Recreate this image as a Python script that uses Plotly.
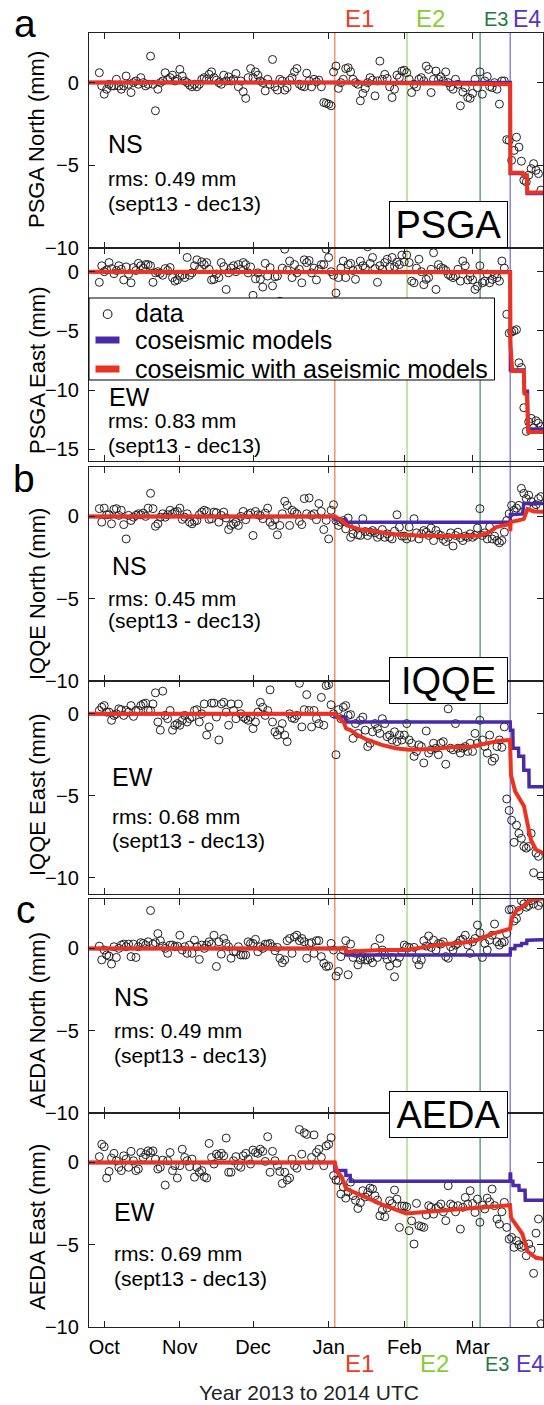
import pandas as pd
import plotly.graph_objects as go

# ---------------- data (daily GPS displacement, mm) ----------------
month_starts = ["2013-09-29", "2013-10-01", "2013-11-01", "2013-12-01",
                "2014-01-01", "2014-02-01", "2014-03-01"]

psga_north = [
    [0.6, -0.2],
    [-0.7, -0.4, -0.1, -0.2, -0.2, 0.2, -0.2, -0.4, -0.2, 0.4, -0.1, -0.6, 0.0, 0.1, -0.1, 0.3,
     0.0, -0.2, -0.1, 1.6, -0.1, -1.7, -0.4, 0.0, 0.1, 0.6, 0.2, 0.3, 0.45, 0.1, 0.2],
    [0.8, 0.4, 0.1, 0.0, -0.15, -0.25, -0.1, -0.25, -0.1, 0.2, 0.3, 0.2, 0.5, 0.65, 0.3,
     0.15, 0.0, -0.1, 0.45, 0.1, 0.35, 0.1, 0.2, 0.55, -0.25, 0.1, -0.55, -0.95, 0.3, 0.85],
    [0.3, 0.65, 0.45, 0.1, 0.0, -0.5, 0.2, -0.1, 1.4, -0.25, -0.45, 0.2, 0.1, -0.45, -0.3, 0.15,
     0.3, 0.65, 0.85, -0.1, -0.2, -0.25, 0.57, 0.1, -0.25, 0.2, 0.05, 0.15, -0.25, -1.2, -1.25],
    [-1.3, -1.4, 0.65, 1.0, -0.35, 0.0, 0.2, 0.85, 0.9, 0.65, 0.2, 0.0, -0.1, -1.1, -0.65, -0.35,
     0.0, 0.3, 0.15, -0.8, 0.1, 1.3, 0.2, 0.5, 0.25, -0.25, -0.9, -0.4, 0.45, 0.3, 0.7],
    [0.75, 0.6, 0.2, -0.6, -0.1, -0.25, 0.2, 0.3, 0.1, 1.0, 0.8, -0.6, 0.2, 0.7, 0.2, 0.35,
     0.1, 0.65, 0.0, -0.25, -0.4, 0.2, -0.1, -1.4, -0.57, -0.3, -0.9, -0.95],
    [-0.65, 0.2, -0.3, 0.65, -0.7, 0.1, 0.37, -0.24, -0.3, 0.0, -0.4, -1.3, 0.1, 0.1,
     -3.45, -3.5, -4.7, -4.1, -3.3, -3.9, -4.75, -5.9, -6.0, -5.6, -5.2, -4.9, -5.3, -5.5, -6.5],
]

psga_east = [
    [-0.9, 0.5],
    [0.0, 0.15, 0.77, 0.26, -0.17, 0.1, 0.5, 0.2, -0.7, 0.4, -0.2, -0.94, 0.35, 0.1, 0.7, 0.5,
     0.3, 0.6, 0.6, 0.5, -0.9, -0.1, 0.0, -0.14, -0.3, 0.26, 0.1, 0.35, -0.5, -0.8, -0.7],
    [-0.37, -0.3, -0.5, 1.2, -0.3, -0.1, 0.5, 1.0, 0.2, 0.83, 0.6, 0.77, 0.2, -0.7, -0.65,
     -0.2, -0.5, 0.77, 0.43, -1.5, -0.1, 0.3, 0.5, 0.0, 0.6, 0.2, 0.77, 0.6, -0.1, 0.4],
    [-2.0, -0.6, -0.1, -0.65, -1.3, 0.7, -0.37, 0.34, -1.2, -0.43, -0.37, -2.5, 0.3, 1.9, 0.14,
     0.9, -0.5, 0.6, -0.1, 0.2, -0.94, 1.0, 0.77, 0.94, -0.1, 0.3, -0.7, 0.2, 0.6, 0.6, 1.9],
    [1.2, 0.0, -0.3, -1.8, -0.5, 0.3, 0.9, -0.5, 0.6, 0.7, 0.1, -0.65, 0.2, 0.9, 0.5, 0.3,
     2.1, 0.7, 1.2, 0.26, -0.9, 0.5, 0.2, 0.77, 1.05, 0.4, 1.2, 0.43, 0.8, 0.6, 1.4],
    [0.83, 1.4, 0.77, -0.8, -0.94, 0.3, 1.05, 0.0, -1.1, -0.65, -0.5, 0.2, 1.6, -1.5, 0.6,
     0.34, 0.26, 0.1, -0.23, -0.37, -0.5, -0.37, 0.2, -0.8, 0.9, 0.5, -0.7, -0.4],
    [-0.7, -1.5, -1.23, 0.5, -0.94, -0.8, -0.2, -0.94, -0.65, -0.23, -0.5, -0.8, 0.9, 0.3,
     -3.6, -5.2, -5.1, -5.0, -4.9, -7.7, -8.1, -11.5, -13.5, -12.7, -12.4, -13.2, -12.6, -12.8, -13.1],
]

iqqe_north = [
    [0.47, -0.35],
    [0.5, 0.1, 0.1, -0.45, 0.43, 0.47, 0.06, 0.37, -0.5, -1.37, 0.06, -0.25, -0.05, 0.06, 0.16,
     0.1, 0.2, 0.0, 0.5, 1.4, 0.47, -0.6, -0.45, -0.05, 0.16, -0.05, 0.1, 0.37, 0.16, 0.26, 0.3],
    [0.5, -0.18, -0.05, 0.16, -0.35, -0.45, -0.3, -0.25, 0.1, 0.26, 0.37, 0.3, -0.18, -0.14,
     0.26, 0.22, -0.35, 0.06, 0.26, -0.1, -0.8, -0.55, -0.45, -0.35, -0.55, 0.0, 0.3, -0.2, 0.1, 0.2],
    [-1.16, 0.3, 0.1, 0.06, -0.14, 0.2, 0.5, -0.35, -0.55, -0.2, -1.12, -0.55, 0.16, 0.92, 0.67,
     -0.55, 0.37, 0.26, 0.16, -0.3, -0.5, 1.08, 0.16, 1.12, 0.06, 0.16, -0.2, 0.78, 0.3, -0.8, -0.24],
    [-1.37, 0.37, 0.71, -0.25, -0.55, -0.35, -0.25, -0.76, -0.1, -1.27, -1.06, -0.6, -1.12, -1.16,
     -0.14, -0.92, -1.16, -0.96, -0.86, -1.0, -1.27, -1.12, -0.8, -1.27, -1.06, -1.27, -1.37, -0.9,
     0.1, -0.65, -1.2],
    [-1.2, -1.37, -0.65, -1.27, -0.14, -1.0, -1.37, -1.06, -0.86, -0.96, -1.16, -0.71, -1.47, -0.86,
     -1.1, -1.16, -1.4, -1.53, -1.27, -1.0, -1.8, -1.16, -0.96, -1.3, -1.47, -1.2, -1.27, -1.06],
    [-1.27, -1.16, -0.71, 0.47, -1.16, -1.0, -1.37, -0.65, -1.37, -1.2, -1.47, -1.6, -1.47, -0.96,
     -0.25, 0.16, 0.67, 0.37, 0.5, 0.67, 1.7, 1.4, 1.08, 1.29, 0.9, 0.47, 0.71, 1.08, 1.2],
]

iqqe_east = [
    [0.2, 0.4],
    [0.5, 0.1, 0.1, -0.4, -0.1, 0.0, 0.3, 0.25, -0.1, 0.2, 0.1, 0.5, -0.16, 0.2, 0.2, 0.5, 0.6,
     0.65, 0.2, 0.2, 0.6, 1.28, -0.5, -1.0, 1.38, -0.1, -0.3, 0.2, -1.0, -0.7, -0.6],
    [-0.7, -0.4, -0.1, -0.5, -0.3, -0.2, 0.2, 0.25, -0.5, 0.0, 0.6, -1.3, -0.8, 0.65, 0.65,
     -0.2, -1.6, 0.6, 0.7, 0.1, -0.7, 0.6, 0.2, -0.3, 0.6, 0.0, -0.2, -0.3, -0.4, -0.2],
    [-0.9, -0.5, 0.1, 0.7, 0.4, -0.1, 0.2, 1.46, -0.5, -1.1, -1.3, -1.0, -0.6, -1.3, -1.7, 0.0,
     -0.25, -0.3, -0.1, 1.86, -0.8, 0.25, 1.17, 0.2, -0.8, 0.2, -0.3, -0.6, 1.0, -0.7, 1.72],
    [1.78, 0.55, 0.0, -2.5, 0.25, -0.3, 0.4, 0.5, -0.1, -0.05, -1.5, -0.6, -1.2, -0.4, -0.2,
     -1.0, -2.0, -1.8, -1.1, -0.6, -0.9, -1.2, -0.3, -0.6, -1.4, -1.3, -1.6, -1.1, -1.7, -1.3, -1.6],
    [-1.3, -0.6, -1.6, -1.8, -2.6, -2.3, -1.9, -2.0, -3.0, -1.05, -2.4, -2.2, -1.8, -2.1, -2.5,
     -1.8, -1.7, -3.08, 0.3, -2.1, -2.2, -0.6, -2.1, -2.4, -2.1, -2.0, -2.3, -1.8],
    [-2.3, -1.2, -1.8, -0.4, -1.6, -2.0, -2.4, -1.3, -2.9, -2.7, -2.0, -1.6, -2.05, -0.8,
     -5.2, -5.9, -6.5, -7.85, -6.8, -7.3, -7.6, -8.1, -8.2, -8.1, -7.3, -9.7, -8.5, -8.7, -9.9],
]

aeda_north = [
    [0.14, -0.7],
    [-0.1, -0.4, -0.47, -0.95, 0.1, -0.55, 0.0, 0.2, 0.26, 0.1, 0.26, -0.5, 0.26, -0.55, 0.1,
     0.35, 0.3, 0.2, 0.4, 2.3, 0.26, 0.35, 0.9, 0.47, 0.14, 0.0, -0.3, 0.2, 0.2, 0.1, 0.14],
    [0.8, -0.1, 0.1, -0.3, 0.2, -0.3, 0.5, 0.1, -0.67, 0.2, 0.0, 0.2, 0.4, 0.26, 0.8, -1.1, 0.4,
     -0.35, 0.6, 0.3, 0.1, -0.6, -0.2, -0.2, 0.1, -0.4, -0.4, -0.4, 0.4, 0.3],
    [0.3, 0.55, -0.2, 0.1, 0.0, 0.26, 0.26, 0.3, 0.1, -0.14, 0.06, -0.6, -0.87, -0.7, 0.47, 0.6,
     -0.3, 0.7, 0.8, 0.47, 0.6, 0.4, -0.6, 0.3, 0.35, -0.3, 0.47, 0.47, -0.5, -0.9, -1.1],
    [-1.07, 0.3, -0.1, -1.68, -1.4, -0.5, -0.1, 0.47, -1.6, 0.26, -0.55, -0.3, -1.0, -0.7, -0.5,
     -0.7, -0.7, -0.6, -0.87, 0.06, -0.55, 0.6, -0.1, -0.4, -0.67, -1.07, -0.55, -1.72, -0.9,
     -0.55, -0.2],
    [0.2, 0.1, 0.06, -0.2, 0.06, -0.67, -1.0, -0.7, 0.47, 0.14, 0.75, 0.06, 0.5, -0.1, 0.3, 0.26,
     0.4, -0.5, -0.6, 0.1, -0.1, 0.2, 0.3, 0.5, 0.55, 0.8, 0.2, -0.3],
    [0.4, 0.6, 1.42, 0.95, -0.55, 0.3, -0.1, 0.5, 0.8, 1.48, 0.4, 0.2, 0.35, 0.4, 0.9, 2.35,
     2.38, 1.66, 1.8, 2.3, 2.9, 2.7, 2.5, 2.6, 2.9, 2.7, 3.1, 2.6, 2.8],
]

aeda_east = [
    [0.35, 1.1],
    [0.95, -0.95, -0.55, 0.26, 0.55, 0.1, -0.3, -0.5, 0.4, 0.2, -0.3, 0.67, 0.1, -0.5, -0.4, 0.6,
     0.3, 0.47, 0.7, 0.6, 0.7, 0.2, -0.4, -0.3, 0.14, -1.38, 0.1, 0.6, -0.5, -0.2, -0.95],
    [-0.2, 0.8, 0.3, 0.1, -0.26, 0.2, -0.9, -0.3, -0.6, -0.5, -0.87, -0.95, 1.15, 0.3, -0.1, 0.5,
     0.4, 0.55, 0.4, 1.48, -0.6, -0.6, 0.1, 0.35, -0.2, -0.3, 0.4, 0.55, 0.2, -0.1],
    [0.75, 0.6, 0.55, 0.8, 0.67, 0.06, 1.56, -0.6, 0.67, 0.1, -0.2, -0.55, -1.28, -0.6, -1.07,
     -0.95, 0.2, -0.2, -0.35, 2.0, 0.5, 1.8, 1.7, -0.2, 0.3, 1.67, 0.6, 0.8, 0.3, -0.2, 1.0],
    [1.1, 1.5, -0.8, -1.07, -1.1, -1.92, -1.5, -2.17, -1.8, -1.2, -2.02, -2.3, -2.8, -2.45, -1.72,
     -2.1, -1.82, -1.56, -1.62, -2.02, -2.29, -3.24, -2.9, -3.3, -2.77, -2.33, -2.5, -1.68, -2.23,
     -3.95, -2.65],
    [-2.65, -2.7, -4.15, -3.55, -4.96, -2.49, -3.85, -3.9, -3.95, -3.2, -2.63, -2.73, -3.14, -2.8,
     -2.69, -2.53, -3.0, -3.54, -1.42, -2.53, -2.63, -3.0, -2.63, -4.05, -2.73, -2.13, -2.53, -1.72],
    [-2.5, -3.04, -2.23, -3.64, -2.6, -2.83, -2.17, -2.4, -1.62, -2.63, -3.44, -3.75, -3.0, -2.43,
     -3.95, -4.66, -4.56, -5.16, -4.76, -5.0, -5.16, -5.06, -5.67, -4.96, -5.3, -6.74, -4.3, -3.44, -9.8],
]

# ---------------- model curves (node time, displacement mm) ----------------
psga_north_cos_t = ["2013-09-20", "2014-03-16 10:00", "2014-03-16 12:00", "2014-03-21 12:00",
                    "2014-03-21 14:00", "2014-03-23 06:00", "2014-03-23 10:00", "2014-04-05"]
psga_north_cos_v = [0, 0, -5.5, -5.5, -5.65, -5.65, -6.7, -6.7]
psga_north_ase_t = ["2013-09-20", "2014-01-03 12:00", "2014-03-16 10:00", "2014-03-16 12:00",
                    "2014-03-21 12:00", "2014-03-21 14:00", "2014-03-23 06:00", "2014-03-23 10:00",
                    "2014-04-05"]
psga_north_ase_v = [0, 0, -0.1, -5.45, -5.45, -5.6, -5.6, -6.65, -6.65]

psga_east_cos_t = ["2013-09-20", "2014-03-16 10:00", "2014-03-16 12:00", "2014-03-22 00:00",
                   "2014-03-22 04:00", "2014-03-23 12:00", "2014-03-23 16:00", "2014-04-05"]
psga_east_cos_v = [0, 0, -8.3, -8.3, -10.1, -10.1, -13.3, -13.3]
psga_east_ase_t = ["2013-09-20", "2014-01-03 12:00", "2014-03-16 10:00", "2014-03-16 12:00",
                   "2014-03-17 06:00", "2014-03-22 00:00", "2014-03-22 06:00", "2014-03-23 06:00",
                   "2014-03-23 20:00", "2014-04-05"]
psga_east_ase_v = [0, 0, -0.05, -6.0, -8.4, -8.4, -10.3, -10.4, -13.55, -13.55]

iqqe_north_cos_t = ["2013-09-20", "2014-01-03 12:00", "2014-01-03 14:00", "2014-01-08 00:00",
                    "2014-01-08 04:00", "2014-03-16 10:00", "2014-03-16 12:00", "2014-03-21 12:00",
                    "2014-03-22 00:00", "2014-04-05"]
iqqe_north_cos_v = [0, 0, -0.2, -0.2, -0.35, -0.35, 0.1, 0.15, 0.78, 0.78]
iqqe_north_ase_t = ["2013-09-20", "2014-01-03 12:00", "2014-01-06 10:00", "2014-01-08 12:00",
                    "2014-01-14 06:00", "2014-01-22 18:00", "2014-01-29 18:00", "2014-02-06",
                    "2014-02-20", "2014-03-04 06:00", "2014-03-07 18:00", "2014-03-10 18:00",
                    "2014-03-14 06:00", "2014-03-16 10:00", "2014-03-16 11:00", "2014-03-16 14:00",
                    "2014-03-21 00:00", "2014-03-22 00:00", "2014-03-23 12:00", "2014-03-26 06:00",
                    "2014-04-05"]
iqqe_north_ase_v = [0, 0, -0.25, -0.55, -0.8, -1.0, -1.12, -1.16, -1.2, -1.16, -0.96, -0.65,
                    -0.5, -0.45, -0.9, -0.35, -0.2, -0.15, 0.45, 0.3, 0.27]

iqqe_east_cos_t = ["2013-09-20", "2014-01-03 12:00", "2014-01-03 14:00", "2014-01-08 00:00",
                   "2014-01-08 04:00", "2014-03-16 10:00", "2014-03-16 12:00", "2014-03-17 12:00",
                   "2014-03-17 14:00", "2014-03-19 20:00", "2014-03-19 22:00", "2014-03-21 22:00",
                   "2014-03-22 00:00", "2014-03-24 02:00", "2014-03-24 04:00", "2014-04-05"]
iqqe_east_cos_v = [0, 0, -0.2, -0.2, -0.5, -0.5, -1.0, -1.0, -2.1, -2.1, -2.6, -2.6, -3.45,
                   -3.45, -4.45, -4.45]
iqqe_east_ase_t = ["2013-09-20", "2014-01-03 12:00", "2014-01-07 02:00", "2014-01-08 04:00",
                   "2014-01-09 22:00", "2014-01-12 20:00", "2014-01-17", "2014-01-22 18:00",
                   "2014-01-28 10:00", "2014-02-03", "2014-02-13", "2014-02-20", "2014-02-28 18:00",
                   "2014-03-06 10:00", "2014-03-12", "2014-03-16 08:00", "2014-03-16 18:00",
                   "2014-03-18 12:00", "2014-03-20 14:00", "2014-03-22 02:00", "2014-03-23 12:00",
                   "2014-03-24 22:00", "2014-03-27", "2014-04-05"]
iqqe_east_ase_v = [0, 0, -0.5, -0.9, -1.0, -1.3, -1.6, -1.9, -2.1, -2.2, -2.15, -2.05, -2.0,
                   -1.85, -1.65, -1.6, -3.75, -4.75, -5.35, -5.65, -6.7, -7.7, -8.3, -8.9]

aeda_north_cos_t = ["2013-09-20", "2014-01-08 00:00", "2014-01-08 04:00", "2014-03-16 10:00",
                    "2014-03-16 12:00", "2014-03-18 08:00", "2014-03-18 10:00", "2014-03-21",
                    "2014-03-21 02:00", "2014-03-23 04:00", "2014-03-23 06:00", "2014-04-05"]
aeda_north_cos_v = [0, 0, -0.4, -0.4, -0.02, -0.02, 0.18, 0.18, 0.3, 0.3, 0.5, 0.55]
aeda_north_ase_t = ["2013-09-20", "2014-01-08 00:00", "2014-01-08 04:00", "2014-01-22 18:00",
                    "2014-02-02", "2014-02-14 12:00", "2014-02-28 18:00", "2014-03-03 12:00",
                    "2014-03-09 06:00", "2014-03-14 06:00", "2014-03-16 10:00", "2014-03-17 00:00",
                    "2014-03-19", "2014-03-20 10:00", "2014-03-22", "2014-03-24 12:00",
                    "2014-03-27 08:00", "2014-04-05"]
aeda_north_ase_v = [0, 0, -0.2, -0.1, -0.1, 0.2, 0.4, 0.55, 0.9, 1.1, 1.2, 1.8, 2.3, 2.4, 2.6,
                    2.9, 3.0, 3.1]

aeda_east_cos_t = ["2013-09-20", "2014-01-03 12:00", "2014-01-03 14:00", "2014-01-08 00:00",
                   "2014-01-08 02:00", "2014-01-09 20:00", "2014-01-09 22:00", "2014-03-16 08:00",
                   "2014-03-16 10:00", "2014-03-16 14:00", "2014-03-16 16:00", "2014-03-17 12:00",
                   "2014-03-17 14:00", "2014-03-20", "2014-03-20 02:00", "2014-03-22 12:00",
                   "2014-03-22 14:00", "2014-04-05"]
aeda_east_cos_v = [0, 0, -0.5, -0.5, -0.8, -0.8, -1.15, -1.15, -0.7, -0.7, -1.15, -1.15, -1.4,
                   -1.4, -1.7, -1.7, -2.3, -2.3]
aeda_east_ase_t = ["2013-09-20", "2014-01-03 12:00", "2014-01-04 08:00", "2014-01-06 10:00",
                   "2014-01-08 04:00", "2014-01-14 04:00", "2014-01-22 18:00", "2014-02-01 18:00",
                   "2014-02-13", "2014-02-27 06:00", "2014-03-16 08:00", "2014-03-16 18:00",
                   "2014-03-21 10:00", "2014-03-23 12:00", "2014-03-27", "2014-04-05"]
aeda_east_ase_v = [0, 0, -0.5, -0.9, -1.6, -2.0, -2.55, -3.1, -2.95, -2.8, -2.6, -3.35, -4.35,
                   -5.4, -5.8, -5.95]

# ---------------- labels ----------------
event_names = ["E1", "E2", "E3", "E4"]
event_times = ["2014-01-03 12:30", "2014-02-02 03:00", "2014-03-04 02:00", "2014-03-16 10:00"]
month_ticks = ["2013-10-01", "2013-11-01", "2013-12-01", "2014-01-01", "2014-02-01", "2014-03-01"]
month_labels = ["Oct", "Nov", "Dec", "Jan", "Feb", "Mar"]
axis_titles = ["PSGA North (mm)", "PSGA East (mm)", "IQQE North (mm)", "IQQE East (mm)",
               "AEDA North (mm)", "AEDA East (mm)"]
components = ["NS", "EW", "NS", "EW", "NS", "EW"]
rms_values = ["0.49", "0.83", "0.45", "0.68", "0.49", "0.69"]
y_ranges = [[-10, 3], [-16, 2], [-10, 3], [-11, 2], [-10, 3], [-10, 3]]
stations = ["PSGA", "IQQE", "AEDA"]
panel_letters = ["a", "b", "c"]
x_title = "Year 2013 to 2014 UTC"
legend_names = ["data", "coseismic models", "coseismic with aseismic models"]

series = [psga_north, psga_east, iqqe_north, iqqe_east, aeda_north, aeda_east]
cos_models = [(psga_north_cos_t, psga_north_cos_v), (psga_east_cos_t, psga_east_cos_v),
              (iqqe_north_cos_t, iqqe_north_cos_v), (iqqe_east_cos_t, iqqe_east_cos_v),
              (aeda_north_cos_t, aeda_north_cos_v), (aeda_east_cos_t, aeda_east_cos_v)]
ase_models = [(psga_north_ase_t, psga_north_ase_v), (psga_east_ase_t, psga_east_ase_v),
              (iqqe_north_ase_t, iqqe_north_ase_v), (iqqe_east_ase_t, iqqe_east_ase_v),
              (aeda_north_ase_t, aeda_north_ase_v), (aeda_east_ase_t, aeda_east_ase_v)]

# ---------------- geometry & style ----------------
W, H = 544, 1405
L, R, T, B = 89, 1, 33, 78
PW, PH = W - L - R, H - T - B


def fx(px):
    return (px - L) / PW


def fy(py):
    return (H - B - py) / PH


panel_px = [(33, 248), (248, 461), (467, 681), (681, 894), (899, 1113), (1113, 1327)]
x_range = ["2013-09-24 18:30", "2014-03-29 20:40"]
RED = "#ec3322"
BLUE = "#4a2aa8"
FONT = "Arial, Liberation Sans, sans-serif"
event_line_colors = ["#f08058", "#a4d66c", "#4f8f6f", "#7c72d4"]
event_text_colors = ["#f03c1e", "#88cc33", "#1d7a43", "#5634bf"]
event_text_sizes = [24, 24, 20, 23]


def daily(month_lists):
    xs, ys = [], []
    for start, vals in zip(month_starts, month_lists):
        xs.extend(pd.date_range(start, periods=len(vals), freq="D"))
        ys.extend(vals)
    return xs, ys


def to_dt(lst):
    return pd.to_datetime(lst, format="mixed")


fig = go.Figure()

for i in range(6):
    xa = "x" if i == 0 else f"x{i + 1}"
    ya = "y" if i == 0 else f"y{i + 1}"
    xs, ys = daily(series[i])
    fig.add_trace(go.Scatter(x=xs, y=ys, mode="markers", showlegend=False,
                             marker=dict(symbol="circle-open", size=8, color="#222",
                                         line=dict(width=1)), xaxis=xa, yaxis=ya))
    ct, cv = cos_models[i]
    fig.add_trace(go.Scatter(x=to_dt(ct), y=cv, mode="lines", showlegend=False,
                             line=dict(color=BLUE, width=3.5), xaxis=xa, yaxis=ya))
    at, av = ase_models[i]
    fig.add_trace(go.Scatter(x=to_dt(at), y=av, mode="lines", showlegend=False,
                             line=dict(color=RED, width=4), xaxis=xa, yaxis=ya))

layout = dict(
    width=W, height=H,
    margin=dict(l=L, r=R, t=T, b=B),
    paper_bgcolor="white", plot_bgcolor="white",
    font=dict(family=FONT, color="black", size=20),
    showlegend=False,
)

for i in range(6):
    top, bot = panel_px[i]
    xkey = "xaxis" if i == 0 else f"xaxis{i + 1}"
    ykey = "yaxis" if i == 0 else f"yaxis{i + 1}"
    ya = "y" if i == 0 else f"y{i + 1}"
    layout[xkey] = dict(
        type="date", domain=[0, 1], anchor=ya, range=x_range,
        tickmode="array", tickvals=month_ticks, ticktext=month_labels,
        ticks="inside", ticklen=6, tickwidth=1, tickcolor="#222",
        showline=True, linecolor="#222", linewidth=1.3, mirror="ticks",
        showgrid=False, zeroline=False,
        showticklabels=(i == 5), tickfont=dict(family=FONT, size=20, color="black"),
        ticklabelstandoff=2,
    )
    if i > 0:
        layout[xkey]["matches"] = "x"
    layout[ykey] = dict(
        domain=[fy(bot), fy(top)], anchor="x" if i == 0 else f"x{i + 1}",
        range=y_ranges[i], tickmode="linear", tick0=0, dtick=5,
        ticks="inside", ticklen=6, tickwidth=1, tickcolor="#222",
        showline=True, linecolor="#222", linewidth=1.3, mirror="ticks",
        showgrid=False, zeroline=False,
        tickfont=dict(family=FONT, size=20, color="black"),
        ticklabelstandoff=5,
    )

fig.update_layout(**layout)

# event lines spanning all panels
for t, c in zip(event_times, event_line_colors):
    fig.add_shape(type="line", xref="x", yref="paper", x0=t, x1=t, y0=0, y1=1,
                  line=dict(color=c, width=1.3), layer="below")

# legend box (decoration drawn over the PSGA East panel)
fig.add_shape(type="rect", xref="paper", yref="paper", x0=fx(89), x1=fx(494.5),
              y0=fy(380), y1=fy(298), fillcolor="white", line=dict(color="black", width=1),
              layer="above")
fig.add_shape(type="circle", xref="paper", yref="paper", x0=fx(103.3), x1=fx(112),
              y0=fy(318.5), y1=fy(309.8), line=dict(color="#222", width=1.1), layer="above")
fig.add_shape(type="line", xref="paper", yref="paper", x0=fx(95.5), x1=fx(119.5),
              y0=fy(340), y1=fy(340), line=dict(color=BLUE, width=7), layer="above")
fig.add_shape(type="line", xref="paper", yref="paper", x0=fx(95.5), x1=fx(119.5),
              y0=fy(369), y1=fy(369), line=dict(color=RED, width=7), layer="above")

ann = []
legend_y = [313, 340, 369]
for name, ly in zip(legend_names, legend_y):
    ann.append(dict(text=name, x=fx(133), y=fy(ly), xref="paper", yref="paper",
                    xanchor="left", yanchor="middle", showarrow=False,
                    font=dict(family=FONT, size=25, color="black")))

top_left = [343, 414, 482, 511]
bot_left = [343, 418, 483, 514]
for k in range(4):
    ann.append(dict(text=event_names[k], x=fx(top_left[k]), y=fy(19), xref="paper", yref="paper",
                    xanchor="left", yanchor="middle", showarrow=False,
                    font=dict(family=FONT, size=event_text_sizes[k], color=event_text_colors[k])))
    ann.append(dict(text=event_names[k], x=fx(bot_left[k]), y=fy(1364), xref="paper", yref="paper",
                    xanchor="left", yanchor="middle", showarrow=False,
                    font=dict(family=FONT, size=event_text_sizes[k], color=event_text_colors[k])))

ann.append(dict(text=x_title, x=fx(309), y=fy(1392), xref="paper", yref="paper",
                xanchor="center", yanchor="middle", showarrow=False,
                font=dict(family=FONT, size=21, color="#222")))

title_cy = [140, 371, 594, 795, 1020, 1227]
for i in range(6):
    ann.append(dict(text=axis_titles[i], x=fx(37), y=fy(title_cy[i]), xref="paper", yref="paper",
                    xanchor="center", yanchor="middle", textangle=-90, showarrow=False,
                    font=dict(family=FONT, size=22, color="black")))

comp_pos = [(106, 144), (107, 397), (110, 566), (110, 777), (112, 997), (112, 1212)]
rms_pos = [(106, 178), (106, 421), (106, 598), (110, 816), (112, 1030), (112, 1253)]
sept_pos = [(106, 203), (106, 446), (106, 620), (110, 840), (112, 1055), (112, 1278)]
for i in range(6):
    ann.append(dict(text=components[i], x=fx(comp_pos[i][0]), y=fy(comp_pos[i][1]),
                    xref="paper", yref="paper", xanchor="left", yanchor="middle",
                    showarrow=False, font=dict(family=FONT, size=25, color="black")))
    ann.append(dict(text=f"rms: {rms_values[i]} mm", x=fx(rms_pos[i][0]), y=fy(rms_pos[i][1]),
                    xref="paper", yref="paper", xanchor="left", yanchor="middle",
                    showarrow=False, font=dict(family=FONT, size=21, color="black")))
    ann.append(dict(text="(sept13 - dec13)", x=fx(sept_pos[i][0]), y=fy(sept_pos[i][1]),
                    xref="paper", yref="paper", xanchor="left", yanchor="middle",
                    showarrow=False, font=dict(family=FONT, size=21, color="black")))

station_cy = [224.5, 680.5, 1114]
for s, cy in zip(stations, station_cy):
    ann.append(dict(text=s, x=fx(448.5), y=fy(cy), xref="paper", yref="paper",
                    xanchor="center", yanchor="middle", showarrow=False,
                    width=113, height=41, borderpad=2, bgcolor="white",
                    bordercolor="black", borderwidth=1,
                    font=dict(family=FONT, size=38, color="black")))

letter_pos = [(25, 0), (24, 455), (26, 886)]
for letter, (lx, ly) in zip(panel_letters, letter_pos):
    ann.append(dict(text=letter, x=fx(lx), y=fy(ly), xref="paper", yref="paper",
                    xanchor="center", yanchor="top", showarrow=False,
                    font=dict(family=FONT, size=39, color="black")))

fig.update_layout(annotations=ann)
fig.write_html("out.html", config={"displayModeBar": False},
               post_script="document.body.style.margin='0';"
                           "document.body.style.overflow='hidden';")
